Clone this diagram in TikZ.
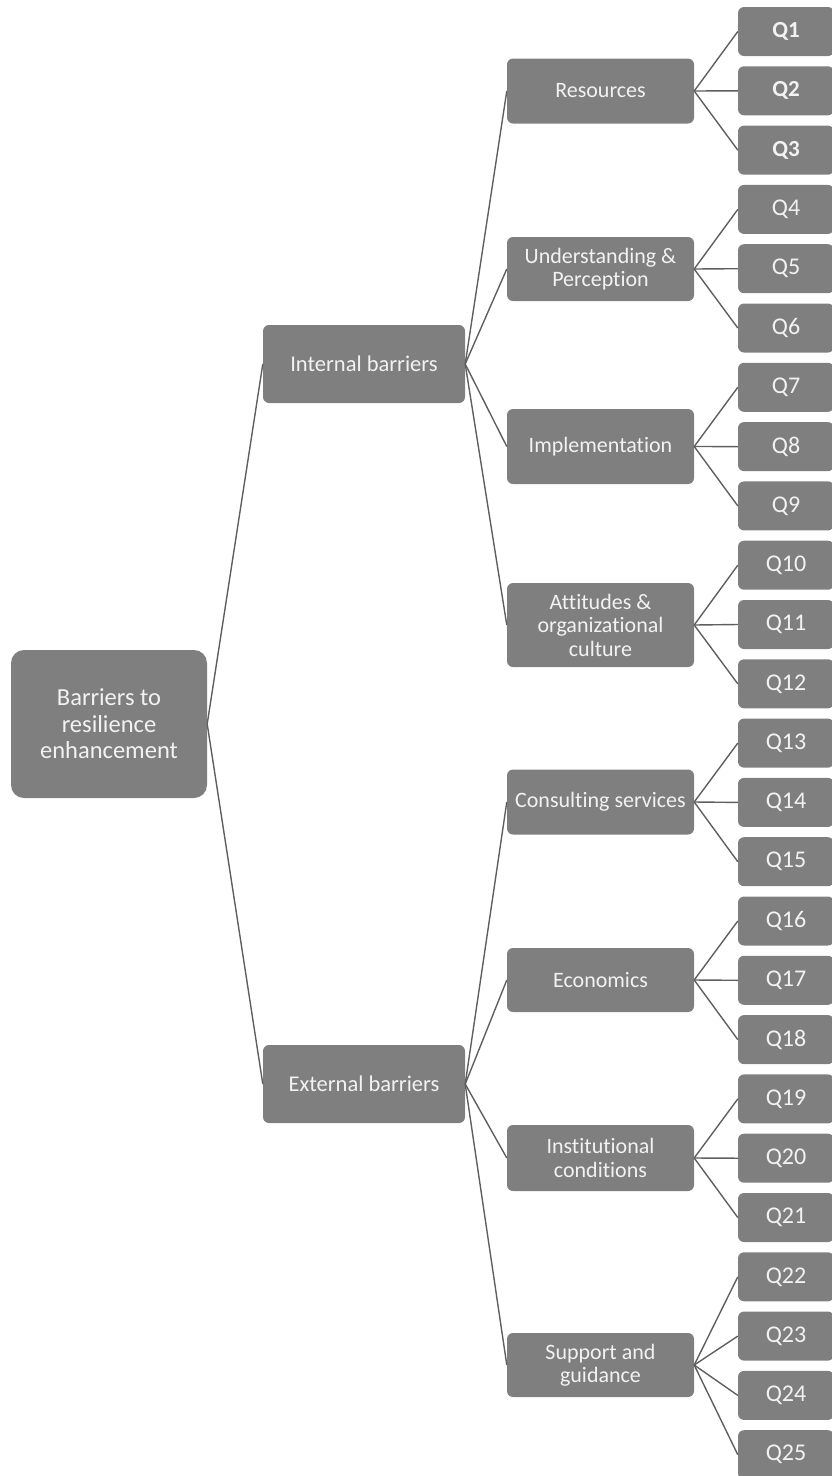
\documentclass[tikz,border=0pt]{standalone}
\usepackage{fontspec}
\setmainfont[Ligatures={NoCommon}]{Carlito}
\definecolor{boxgray}{RGB}{127,127,127}
\definecolor{txtwhite}{RGB}{242,242,242}
\definecolor{linegray}{RGB}{95,95,95}
\tikzset{
  box/.style={fill=boxgray, text=txtwhite, rounded corners=6pt, align=center, inner sep=0pt, font=\fontsize{20}{23}\selectfont},
  rootbox/.style={box, minimum width=196pt, minimum height=148pt, rounded corners=13pt, font=\fontsize{24.5}{26.5}\selectfont},
  levelone/.style={box, minimum width=202pt, minimum height=78pt, font=\fontsize{22.5}{25}\selectfont},
  leveltwo/.style={box, minimum width=187pt, font=\fontsize{22}{23.5}\selectfont},
  qbox/.style={box, minimum width=96pt, minimum height=49pt, font=\fontsize{24}{26}\selectfont},
  link/.style={draw=linegray, line width=1.4pt}
}
\begin{document}
\begin{tikzpicture}[x=1pt,y=-1pt]
\useasboundingbox (0,0) rectangle (832,1476);
\clip (0,0) rectangle (832,1476);
% root
\node[rootbox] (root) at (109,724) {Barriers to\\resilience\\enhancement};
% level one
\node[levelone] (int) at (364,364) {Internal barriers};
\node[levelone] (ext) at (364,1084) {External barriers};
% level two
\node[leveltwo, minimum height=65pt] (res) at (600.5,91) {Resources};
\node[leveltwo, minimum height=64pt] (und) at (600.5,269) {Understanding \&\\Perception};
\node[leveltwo, minimum height=75pt] (imp) at (600.5,446.5) {Implementation};
\node[leveltwo, minimum height=84pt] (att) at (600.5,625) {Attitudes \&\\organizational\\culture};
\node[leveltwo, minimum height=65pt] (con) at (600.5,802) {Consulting services};
\node[leveltwo, minimum height=64pt] (eco) at (600.5,980) {Economics};
\node[leveltwo, minimum height=66pt] (ins) at (600.5,1158) {Institutional\\conditions};
\node[leveltwo, minimum height=64pt] (sup) at (600.5,1365) {Support and\\guidance};
% questions
\foreach \i in {1,...,25}{
  \pgfmathsetmacro{\yy}{31.5+(\i-1)*59.3}
  \ifnum\i<4
    \node[qbox, font=\fontsize{23}{26}\selectfont\bfseries] (q\i) at (786,\yy) {Q\i};
  \else
    \node[qbox] (q\i) at (786,\yy) {Q\i};
  \fi
}
% links
\draw[link] (root.east) -- (int.west);
\draw[link] (root.east) -- (ext.west);
\foreach \m in {res,und,imp,att}{\draw[link] (int.east) -- (\m.west);}
\foreach \m in {con,eco,ins,sup}{\draw[link] (ext.east) -- (\m.west);}
\foreach \q in {1,2,3}{\draw[link] (res.east) -- (q\q.west);}
\foreach \q in {4,5,6}{\draw[link] (und.east) -- (q\q.west);}
\foreach \q in {7,8,9}{\draw[link] (imp.east) -- (q\q.west);}
\foreach \q in {10,11,12}{\draw[link] (att.east) -- (q\q.west);}
\foreach \q in {13,14,15}{\draw[link] (con.east) -- (q\q.west);}
\foreach \q in {16,17,18}{\draw[link] (eco.east) -- (q\q.west);}
\foreach \q in {19,20,21}{\draw[link] (ins.east) -- (q\q.west);}
\foreach \q in {22,23,24,25}{\draw[link] (sup.east) -- (q\q.west);}
\end{tikzpicture}
\end{document}
